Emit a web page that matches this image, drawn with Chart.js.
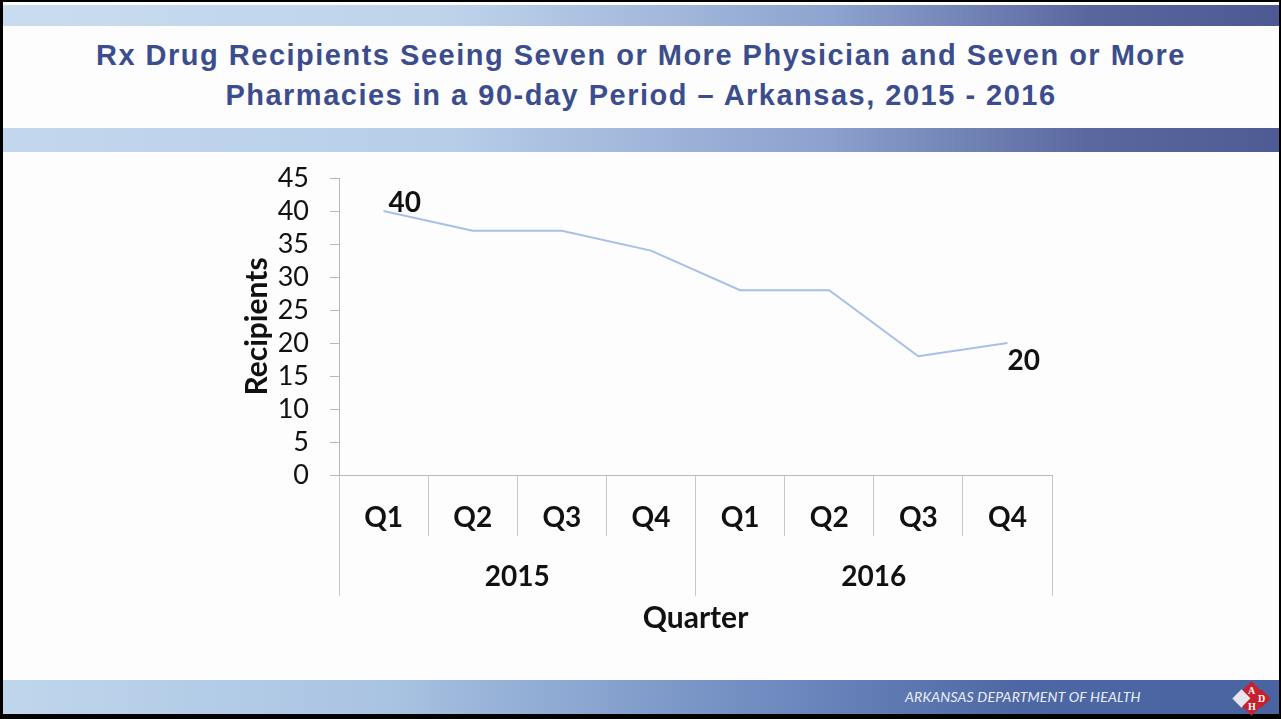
<!DOCTYPE html>
<html lang="en">
<head>
    <meta charset="UTF-8">
    <title>Rx Drug Recipients - Arkansas, 2015 - 2016</title>
    <style>
        html, body {
            margin: 0;
            padding: 0;
        }
        body {
            width: 1281px;
            height: 719px;
            position: relative;
            overflow: hidden;
            background: #000;
        }
        .slide {
            position: absolute;
            left: 3px;
            top: 2px;
            width: 1276px;
            height: 712px;
            background: #fdfdfe;
        }
        .stripe {
            position: absolute;
            left: 0;
            width: 100%;
        }
        .stripe.top {
            top: 3px;
            height: 21px;
            background: linear-gradient(to right, #c9dcef 0%, #bed3ea 35%, #8ea3cf 65%, #5a679f 85%, #4d5992 100%);
        }
        .stripe.mid {
            top: 126px;
            height: 24px;
            background: linear-gradient(to right, #c3d8ee 0%, #b8cde8 35%, #8ba0cd 65%, #5a689f 85%, #4f5b94 100%);
        }
        .stripe.foot {
            top: 678px;
            height: 34px;
            background: linear-gradient(to right, #bfd6ec 0%, #a9c3e2 30%, #6f8bc0 60%, #4d67a4 80%, #4a64a2 100%);
        }
        .title {
            position: absolute;
            left: 0;
            top: 33px;
            width: 1276px;
            text-align: center;
            font-family: "Liberation Sans", Arial, sans-serif;
            font-weight: bold;
            font-size: 29px;
            letter-spacing: 1.5px;
            line-height: 40px;
            color: #3c4d8e;
        }
        .foottext {
            position: absolute;
            left: 902px;
            top: 686px;
            font-family: Lato, sans-serif;
            font-style: italic;
            font-size: 14px;
            color: #e8eef8;
            letter-spacing: 0.2px;
        }
        .logo {
            position: absolute;
            left: 1228px;
            top: 680px;
            width: 42px;
            height: 32px;
        }
        .logo span {
            position: absolute;
            width: 13px;
            height: 13px;
            background: #c8202c;
            transform: rotate(45deg);
            color: #fff;
            font: bold 10px "Liberation Serif", serif;
            text-align: center;
            line-height: 13px;
        }
        .logo span b {
            display: inline-block;
            transform: rotate(-45deg);
        }
        #chartBox {
            position: absolute;
            left: 217px;
            top: 158px;
            width: 860px;
            height: 480px;
        }
    </style>
    <script src="https://cdn.jsdelivr.net/npm/chart.js"></script>
</head>
<body>
<div class="slide">
    <div class="stripe top"></div>
    <div class="title">Rx Drug Recipients Seeing Seven or More Physician and Seven or More<br>Pharmacies in a 90-day Period – Arkansas, 2015 - 2016</div>
    <div class="stripe mid"></div>
    <div class="stripe foot"></div>
    <div class="foottext">ARKANSAS DEPARTMENT OF HEALTH</div>
    <div class="logo">
        <span style="left:14px;top:2px"><b>A</b></span>
        <span style="left:4px;top:10px;background:#e6e6ee"></span>
        <span style="left:24px;top:10px"><b>D</b></span>
        <span style="left:14px;top:18px"><b>H</b></span>
    </div>
    <div id="chartBox">
        <canvas id="lineChart"></canvas>
    </div>
</div>

<script>
    // 数据
    const quarters = ['Q1', 'Q2', 'Q3', 'Q4', 'Q1', 'Q2', 'Q3', 'Q4'];
    const years = ['2015', '2016'];
    const recipients = [40, 37, 37, 34, 28, 28, 18, 20];
    const yTicks = [0, 5, 10, 15, 20, 25, 30, 35, 40, 45];
    const labelledPoints = [0, 7];  // only first and last carry a value label

    const axisGray = '#b9b9b9';
    const tickFont = { family: 'Lato', size: 27 };
    const boldFont = { family: 'Lato', size: 28, weight: 'bold' };
    const titleFont = { family: 'Lato', size: 30, weight: 'bold' };

    // value labels "40" and "20"
    const valueLabels = {
        id: 'valueLabels',
        afterDatasetsDraw(chart) {
            const ctx = chart.ctx;
            const pts = chart.getDatasetMeta(0).data;
            ctx.save();
            ctx.font = 'bold 28px Lato';
            ctx.fillStyle = '#111';
            ctx.textBaseline = 'middle';
            ctx.textAlign = 'left';
            labelledPoints.forEach((i, n) => {
                const p = pts[i];
                const dx = n === 0 ? 5 : 0;
                const dy = n === 0 ? -8 : 18;
                ctx.fillText(String(recipients[i]), p.x + dx, p.y + dy);
            });
            ctx.restore();
        }
    };

    const ctx = document.getElementById('lineChart').getContext('2d');
    new Chart(ctx, {
        type: 'line',
        data: {
            labels: quarters,
            datasets: [{
                label: 'Recipients',
                data: recipients,
                borderColor: '#a8bfe6',
                borderWidth: 2,
                pointRadius: 0,
                tension: 0,
                fill: false
            }]
        },
        options: {
            responsive: true,
            maintainAspectRatio: false,
            animation: false,
            layout: {
                padding: { top: 18, right: 28, bottom: 0, left: 0 }
            },
            plugins: {
                legend: { display: false },
                tooltip: { enabled: false }
            },
            scales: {
                x: {
                    type: 'category',
                    offset: true,
                    grid: {
                        offset: true,
                        drawOnChartArea: false,
                        tickLength: 61,
                        color: '#c8c8c8',
                        lineWidth: 1
                    },
                    border: { color: axisGray },
                    ticks: {
                        color: '#111',
                        font: boldFont,
                        padding: -35,
                        maxRotation: 0,
                        autoSkip: false
                    },
                    afterFit(scale) { scale.height = 61; }
                },
                x2: {
                    type: 'category',
                    labels: years,
                    position: 'bottom',
                    offset: true,
                    grid: {
                        offset: true,
                        drawOnChartArea: false,
                        tickLength: 60,
                        color: '#c8c8c8',
                        lineWidth: 1
                    },
                    border: { display: false },
                    ticks: {
                        color: '#111',
                        font: boldFont,
                        padding: -36,
                        maxRotation: 0
                    },
                    title: {
                        display: true,
                        text: 'Quarter',
                        color: '#111',
                        font: titleFont,
                        padding: { top: 0, bottom: 4 }
                    },
                    afterFit(scale) { scale.height = 104; }
                },
                y: {
                    min: 0,
                    max: 45,
                    afterBuildTicks(scale) {
                        scale.ticks = yTicks.map(v => ({ value: v }));
                    },
                    grid: {
                        drawOnChartArea: false,
                        tickLength: 9,
                        color: axisGray
                    },
                    border: { color: axisGray },
                    ticks: {
                        color: '#111',
                        font: tickFont,
                        padding: 21,
                        autoSkip: false
                    },
                    title: {
                        display: true,
                        text: 'Recipients',
                        color: '#111',
                        font: titleFont,
                        padding: { top: 19, bottom: 0 }
                    },
                    afterFit(scale) {
                        scale.width = 119;
                        scale.paddingTop = 0;
                        scale.paddingBottom = 0;
                    }
                }
            }
        },
        plugins: [valueLabels]
    });
</script>
</body>
</html>
